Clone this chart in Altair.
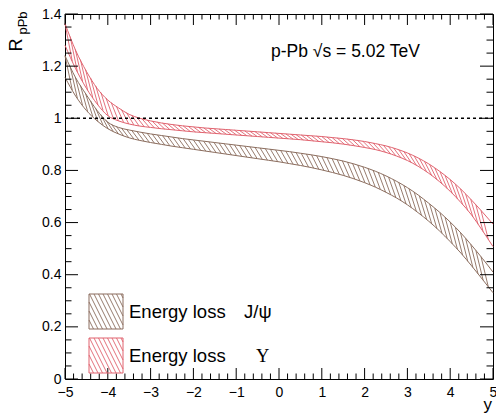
import altair as alt
import pandas as pd

# ---------------- data ----------------
rap = [-5.0, -4.75, -4.5, -4.25, -4.0, -3.75, -3.5, -3.25, -3.0, -2.75, -2.5, -2.25,
       -2.0, -1.75, -1.5, -1.25, -1.0, -0.75, -0.5, -0.25, 0.0, 0.25, 0.5, 0.75, 1.0,
       1.25, 1.5, 1.75, 2.0, 2.25, 2.5, 2.75, 3.0, 3.25, 3.5, 3.75, 4.0, 4.25, 4.5, 4.75, 5.0]

jpsi_hi = [1.24, 1.155, 1.09, 1.03, 0.985, 0.965, 0.955, 0.947, 0.94, 0.934, 0.928, 0.922,
           0.917, 0.912, 0.907, 0.902, 0.897, 0.892, 0.887, 0.882, 0.877, 0.872, 0.866, 0.86,
           0.853, 0.845, 0.836, 0.825, 0.812, 0.797, 0.779, 0.758, 0.734, 0.706, 0.674, 0.64,
           0.602, 0.56, 0.513, 0.463, 0.41]
jpsi_lo = [1.157, 1.085, 1.03, 0.99, 0.96, 0.94, 0.925, 0.915, 0.907, 0.9, 0.893, 0.887,
           0.881, 0.875, 0.869, 0.863, 0.857, 0.851, 0.845, 0.839, 0.833, 0.826, 0.819, 0.811,
           0.802, 0.792, 0.781, 0.768, 0.753, 0.736, 0.716, 0.694, 0.668, 0.638, 0.605, 0.568,
           0.527, 0.483, 0.434, 0.383, 0.331]
ups_hi = [1.363, 1.26, 1.18, 1.115, 1.07, 1.04, 1.015, 1.0, 0.99, 0.982, 0.976, 0.971,
          0.967, 0.963, 0.96, 0.957, 0.954, 0.951, 0.948, 0.945, 0.942, 0.939, 0.936, 0.933,
          0.93, 0.926, 0.922, 0.917, 0.911, 0.903, 0.894, 0.882, 0.867, 0.848, 0.825, 0.797,
          0.765, 0.728, 0.686, 0.641, 0.594]
ups_lo = [1.28, 1.19, 1.115, 1.055, 1.01, 0.99, 0.978, 0.97, 0.965, 0.96, 0.956, 0.952,
          0.948, 0.945, 0.942, 0.939, 0.936, 0.933, 0.93, 0.927, 0.924, 0.921, 0.918, 0.914,
          0.91, 0.906, 0.901, 0.895, 0.888, 0.88, 0.869, 0.855, 0.838, 0.816, 0.789, 0.757,
          0.72, 0.677, 0.629, 0.57, 0.508]

reference_level = [1.0]

x_major = [-5, -4, -3, -2, -1, 0, 1, 2, 3, 4, 5]
x_minor = [-4.8, -4.6, -4.4, -4.2, -3.8, -3.6, -3.4, -3.2, -2.8, -2.6, -2.4, -2.2,
           -1.8, -1.6, -1.4, -1.2, -0.8, -0.6, -0.4, -0.2, 0.2, 0.4, 0.6, 0.8,
           1.2, 1.4, 1.6, 1.8, 2.2, 2.4, 2.6, 2.8, 3.2, 3.4, 3.6, 3.8, 4.2, 4.4, 4.6, 4.8]
y_major = [0, 0.2, 0.4, 0.6, 0.8, 1.0, 1.2, 1.4]
y_minor = [0.05, 0.1, 0.15, 0.25, 0.3, 0.35, 0.45, 0.5, 0.55, 0.65, 0.7, 0.75,
           0.85, 0.9, 0.95, 1.05, 1.1, 1.15, 1.25, 1.3, 1.35]

title_text = "p-Pb  \u221As = 5.02 TeV"
legend_text = "Energy loss"
legend_symbols = ["J/\u03C8", "\u03A5"]

# ---------------- styling ----------------
W, H = 428, 365
FONT = "Liberation Sans"
BROWN = "#8B6D5E"
RED = "#E0626E"
STEP = 0.25

xs = alt.Scale(domain=[-5, 5], nice=False, zero=False)
ys = alt.Scale(domain=[0, 1.4], nice=False, zero=False)

df = pd.DataFrame({"x": rap, "jlo": jpsi_lo, "jhi": jpsi_hi, "ulo": ups_lo, "uhi": ups_hi})
one = alt.Data(values=[{}])

base = alt.Chart(df).mark_point(opacity=0).encode(
    x=alt.X("x:Q", scale=xs, axis=alt.Axis(values=x_major, format="d", ticks=False, tickSize=0,
                                           domain=False, grid=False, labelFont=FONT, labelFontSize=14,
                                           labelColor="black", labelPadding=6, labelFlush=False,
                                           labelOverlap=False, title=None)),
    y=alt.Y("jlo:Q", scale=ys, axis=alt.Axis(values=y_major, format="~g", ticks=False, tickSize=0,
                                             domain=False, grid=False, labelFont=FONT, labelFontSize=14,
                                             labelColor="black", labelPadding=4, labelFlush=False,
                                             labelOverlap=False, title=None)),
)


def outline(col, color):
    return alt.Chart(df).mark_line(color=color, strokeWidth=1, interpolate="monotone").encode(
        x=alt.X("x:Q", scale=xs, axis=None), y=alt.Y(col + ":Q", scale=ys, axis=None))


def hatch(lo, hi, color, d, h):
    n = len(rap)
    recs = [{"i": i, "x": rap[i], "lo": lo[i], "hi": hi[i],
             "lo2": lo[min(i + 1, n - 1)], "hi2": hi[min(i + 1, n - 1)]} for i in range(n)]
    cnt = int((10 - d) / h) + 1
    src = alt.InlineData(values=recs)
    return (alt.Chart(alt.sequence(0, cnt, 1, as_="k"))
            .transform_calculate(xa=f"-5 + datum.k*{h}")
            .transform_calculate(xb=f"datum.xa + {d}")
            .transform_filter("datum.xb <= 5.0001")
            .transform_calculate(ia=f"min({n - 2}, floor((datum.xa + 5)/{STEP} + 1e-9))",
                                 ib=f"min({n - 2}, floor((datum.xb + 5)/{STEP} + 1e-9))")
            .transform_lookup(lookup="ia", from_=alt.LookupData(data=src, key="i", fields=["x", "hi", "hi2"]),
                              as_=["xa0", "ha", "ha2"])
            .transform_lookup(lookup="ib", from_=alt.LookupData(data=src, key="i", fields=["x", "lo", "lo2"]),
                              as_=["xb0", "lb", "lb2"])
            .transform_calculate(ya=f"datum.ha + (datum.ha2 - datum.ha)*(datum.xa - datum.xa0)/{STEP}",
                                 yb=f"datum.lb + (datum.lb2 - datum.lb)*(datum.xb - datum.xb0)/{STEP}")
            .mark_rule(color=color, strokeWidth=0.9)
            .encode(x=alt.X("xa:Q", scale=xs, axis=None), x2="xb:Q",
                    y=alt.Y("ya:Q", scale=ys, axis=None), y2="yb:Q"))


def ticks_x(vals, ln):
    d = pd.DataFrame({"v": vals})
    b = alt.Chart(d).mark_rule(color="black", strokeWidth=1).encode(
        x=alt.X("v:Q", scale=xs, axis=None), y=alt.value(H), y2=alt.value(H - ln))
    t = alt.Chart(d).mark_rule(color="black", strokeWidth=1).encode(
        x=alt.X("v:Q", scale=xs, axis=None), y=alt.value(0), y2=alt.value(ln))
    return [b, t]


def ticks_y(vals, ln):
    d = pd.DataFrame({"v": vals})
    l = alt.Chart(d).mark_rule(color="black", strokeWidth=1).encode(
        y=alt.Y("v:Q", scale=ys, axis=None), x=alt.value(0), x2=alt.value(ln))
    r = alt.Chart(d).mark_rule(color="black", strokeWidth=1).encode(
        y=alt.Y("v:Q", scale=ys, axis=None), x=alt.value(W), x2=alt.value(W - ln))
    return [l, r]


unity = alt.Chart(pd.DataFrame({"v": reference_level})).mark_rule(
    color="black", strokeWidth=1.6, strokeDash=[3, 3]).encode(
    y=alt.Y("v:Q", scale=ys, axis=None), x=alt.value(0), x2=alt.value(W))


def legend_box(x0, y0, bw, bh, color, slope, sp):
    box = alt.Chart(one).mark_rect(fillOpacity=0, stroke=color, strokeWidth=1).encode(
        x=alt.value(x0), x2=alt.value(x0 + bw), y=alt.value(y0), y2=alt.value(y0 + bh))
    cnt = int((bw + bh / slope) / sp) + 1
    lines = (alt.Chart(alt.sequence(1, cnt, 1, as_="k"))
             .transform_calculate(c=f"-{bh / slope} + datum.k*{sp}")
             .transform_calculate(xs_="max(datum.c, 0)", xe_=f"min(datum.c + {bh / slope}, {bw})")
             .transform_calculate(px1=f"{x0} + datum.xs_", py1=f"{y0} + {slope}*(datum.xs_ - datum.c)",
                                  px2=f"{x0} + datum.xe_", py2=f"{y0} + {slope}*(datum.xe_ - datum.c)")
             .transform_filter("datum.xe_ > datum.xs_")
             .mark_rule(color=color, strokeWidth=0.9)
             .encode(x=alt.X("px1:Q", scale=None), x2="px2:Q", y=alt.Y("py1:Q", scale=None), y2="py2:Q"))
    return [box, lines]


def label(text, x, y, size=16, align="left", angle=0, font=FONT):
    return alt.Chart(one).mark_text(text=text, font=font, fontSize=size, align=align,
                                    baseline="middle", angle=angle, color="black").encode(
        x=alt.value(x), y=alt.value(y))


layers = [base,
          hatch(jpsi_lo, jpsi_hi, BROWN, 0.17, 0.12),
          hatch(ups_lo, ups_hi, RED, 0.17, 0.12),
          outline("jhi", BROWN), outline("jlo", BROWN),
          outline("uhi", RED), outline("ulo", RED),
          unity]
layers += ticks_x(x_major, 11) + ticks_x(x_minor, 5.5) + ticks_y(y_major, 13) + ticks_y(y_minor, 6.5)
layers += legend_box(24, 280, 34, 35, BROWN, 2.0, 4.5)
layers += legend_box(24, 324, 34, 35, RED, 2.0, 4.5)
layers += [label(legend_text, 64, 298, size=18.5), label(legend_symbols[0], 179, 298, size=18.5),
           label(legend_text, 64, 342, size=18.5), label(legend_symbols[1], 191, 342, size=18.5,
                                                          font="Liberation Serif"),
           label(title_text, 206, 38, size=17.5),
           label("y", W - 1, 391, size=17, align="right"),
           label("R", -48, 31, size=18, align="center", angle=270),
           label("pPb", -42, 9, size=13, align="center", angle=270)]

chart = alt.layer(*layers).resolve_axis(x="independent", y="independent").properties(
    width=W, height=H,
    autosize=alt.AutoSizeParams(type="none"),
    padding={"left": 57, "top": 6, "right": 3, "bottom": 35},
).configure_view(stroke="black", strokeWidth=1)

chart.save("out.html", embed_options={"renderer": "svg", "actions": False})
